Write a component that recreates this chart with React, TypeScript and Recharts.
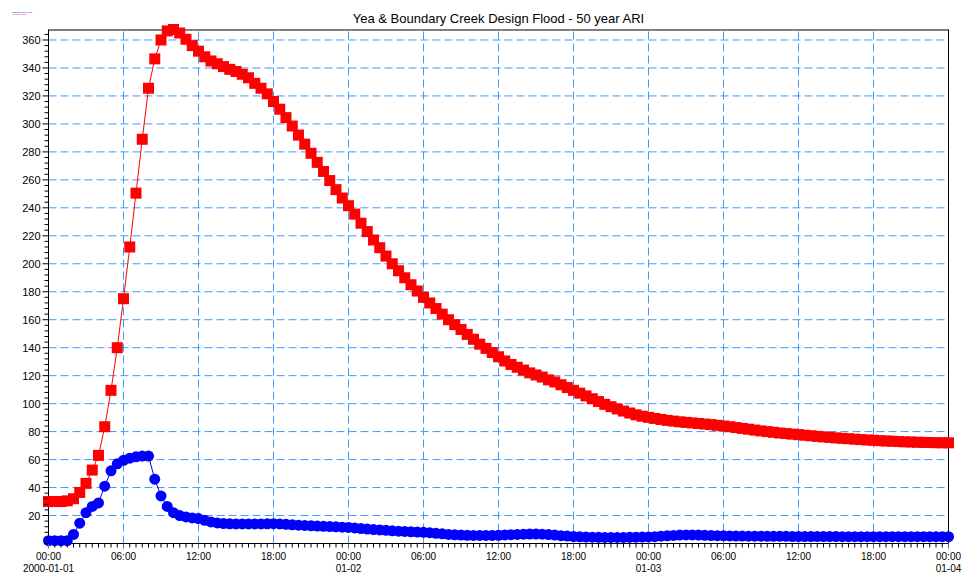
import React from "react";
import { LineChart, Line, XAxis, YAxis, ReferenceLine } from "recharts";

// half-hourly samples, 2000-01-01 00:00 to 01-04 00:00
const STEP_HOURS = 0.5;

// Yea River (red squares)
const yeaRiver = [
  30, 30, 30, 30.5, 32, 36.5, 43, 52.5, 63, 83.5, 109.5, 140,
  175, 212, 250.5, 289, 325.5, 346.5, 360, 366.5, 367.5, 365, 360.5, 356,
  352, 348, 345, 343, 341, 339, 337.5, 335.5, 333, 329, 325.5, 321.5,
  316, 310.5, 304.5, 298.5, 292, 285.5, 279, 272.5, 266, 259.5, 253, 247,
  241.5, 235.5, 229, 223, 217, 211.5, 205.5, 200, 195, 190, 185, 180.5,
  176, 172, 168, 164, 160, 156.5, 153, 149.5, 146, 142.5, 139.5, 136.5,
  133.5, 130.5, 128, 126, 124, 122, 120.5, 119, 117, 115.5, 113.5, 111.5,
  109.5, 107.5, 105.5, 103.5, 101.5, 99.5, 97.8, 96.2, 94.7, 93.3, 92, 91,
  90.2, 89.4, 88.7, 88, 87.5, 87, 86.6, 86.2, 85.8, 85.4, 85, 84.5,
  84, 83.5, 82.9, 82.3, 81.7, 81.1, 80.5, 80, 79.5, 79, 78.6, 78.2,
  77.8, 77.4, 77, 76.6, 76.2, 75.9, 75.5, 75.2, 74.9, 74.6, 74.3, 74,
  73.8, 73.5, 73.3, 73.1, 72.9, 72.7, 72.6, 72.4, 72.3, 72.2, 72.1, 72,
  72,
];

// Boundary Creek (blue circles)
const boundaryCreek = [
  2, 2, 2, 2, 6.5, 14.5, 22, 26.5, 29, 41, 52, 57,
  59.5, 61, 62, 62.5, 62.5, 46, 34, 26.5, 22, 20, 19, 18.3,
  17.8, 16.6, 15.4, 14.7, 14.3, 14.1, 14, 14, 14, 14, 14, 14.1,
  14.2, 14, 13.7, 13.4, 13.1, 12.9, 12.7, 12.5, 12.3, 12.1, 11.9, 11.7,
  11.5, 11.1, 10.7, 10.3, 10, 9.7, 9.4, 9.1, 8.8, 8.6, 8.4, 8.2,
  8, 7.7, 7.3, 6.9, 6.5, 6.2, 6, 5.9, 5.8, 5.8, 5.8, 5.8,
  5.9, 6.1, 6.3, 6.5, 6.7, 6.8, 6.8, 6.7, 6.4, 6, 5.6, 5.3,
  5, 4.8, 4.6, 4.5, 4.4, 4.3, 4.3, 4.3, 4.3, 4.4, 4.5, 4.6,
  4.7, 4.9, 5.2, 5.5, 5.8, 6, 6.1, 6.1, 6, 5.9, 5.7, 5.6,
  5.5, 5.4, 5.3, 5.3, 5.2, 5.2, 5.2, 5.1, 5.1, 5.1, 5.1, 5,
  5, 5, 5, 5, 5, 5, 5, 4.9, 4.9, 4.9, 4.9, 4.9,
  4.9, 4.9, 4.9, 4.9, 4.9, 4.9, 4.9, 4.9, 4.9, 4.9, 4.9, 4.9,
  4.9,
];

const xMajorTicks = [0, 6, 12, 18, 24, 30, 36, 42, 48, 54, 60, 66, 72];
const xTickTime = ["00:00", "06:00", "12:00", "18:00", "00:00", "06:00", "12:00", "18:00", "00:00", "06:00", "12:00", "18:00", "00:00"];
const xTickDate = ["2000-01-01", "", "", "", "01-02", "", "", "", "01-03", "", "", "", "01-04"];
const yLabels = [20, 40, 60, 80, 100, 120, 140, 160, 180, 200, 220, 240, 260, 280, 300, 320, 340, 360];
const yMax = 367.15;

const data = yeaRiver.map((v, i) => ({ hour: i * STEP_HOURS, yea: v, boundary: boundaryCreek[i] }));
const xMinorTicks = yeaRiver.map((_, i) => i * STEP_HOURS);
const yMinorTicks = Array.from({ length: 92 }, (_, i) => i * 4);

const FONT = "'Liberation Sans', Arial, sans-serif";
const GRID = "#3d9bff";

function XTick(props: any) {
  const { x, y, payload } = props;
  const idx = xMajorTicks.indexOf(payload.value);
  if (idx < 0) return <line x1={x} x2={x} y1={y} y2={y + 4} stroke="#000" />;
  return (
    <g>
      <line x1={x} x2={x} y1={y} y2={y + 5} stroke="#666" />
      <text x={x} y={y + 16} textAnchor="middle" fontSize={10} fontFamily={FONT} fill="#000">
        {xTickTime[idx]}
      </text>
      {xTickDate[idx] ? (
        <text x={x} y={y + 28} textAnchor="middle" fontSize={10} fontFamily={FONT} fill="#000">
          {xTickDate[idx]}
        </text>
      ) : null}
    </g>
  );
}

function YTick(props: any) {
  const { x, y, payload } = props;
  const major = yLabels.includes(payload.value);
  return (
    <g>
      <line x1={x - (major ? 6 : 4)} x2={x} y1={y} y2={y} stroke="#000" />
      {major ? (
        <text x={x - 8} y={y + 4} textAnchor="end" fontSize={11} fontFamily={FONT} fill="#000">
          {payload.value}
        </text>
      ) : null}
    </g>
  );
}

const squareDot = (p: any) => (
  <rect key={`sq-${p.index}`} x={p.cx - 5.5} y={p.cy - 5.5} width={11} height={11} fill="#ff0000" />
);
const circleDot = (p: any) => <circle key={`ci-${p.index}`} cx={p.cx} cy={p.cy} r={5.5} fill="#0000ff" />;

export default function App() {
  return (
    <div style={{ position: "absolute", left: 0, top: 0, width: 973, height: 574, background: "#fff" }}>
      <LineChart width={973} height={574} data={data} margin={{ top: 29.5, right: 24.5, bottom: 0, left: 0.5 }}>
        <XAxis
          dataKey="hour"
          type="number"
          domain={[0, 72]}
          ticks={xMinorTicks}
          interval={0}
          height={30.5}
          tickSize={0}
          tickMargin={0}
          tickLine={false}
          axisLine={{ stroke: "#000" }}
          tick={<XTick />}
        />
        <YAxis
          type="number"
          domain={[0, yMax]}
          ticks={yMinorTicks}
          interval={0}
          width={48}
          tickSize={0}
          tickMargin={0}
          tickLine={false}
          axisLine={{ stroke: "#000" }}
          tick={<YTick />}
        />
        {yLabels.map((v) => (
          <ReferenceLine key={`h${v}`} y={v} stroke={GRID} strokeDasharray="8 4" />
        ))}
        {xMajorTicks.slice(1, -1).map((v) => (
          <ReferenceLine key={`v${v}`} x={v} stroke={GRID} strokeDasharray="8 4" />
        ))}
        <ReferenceLine y={yMax} stroke="#000" />
        <ReferenceLine x={72} stroke="#000" />
        <Line type="linear" dataKey="boundary" stroke="#0000ff" strokeWidth={1} dot={circleDot} activeDot={false} isAnimationActive={false} />
        <Line type="linear" dataKey="yea" stroke="#ff0000" strokeWidth={1} dot={squareDot} activeDot={false} isAnimationActive={false} />
      </LineChart>
      <svg width={973} height={574} style={{ position: "absolute", left: 0, top: 0, pointerEvents: "none" }}>
        <text x={498.5} y={23} textAnchor="middle" fontSize={13} fontFamily={FONT} fill="#000">
          Yea &amp; Boundary Creek Design Flood - 50 year ARI
        </text>
        <text x={12} y={13.2} fontSize={2} fontFamily={FONT} fill="#0000ff">Boundary Creek Flood</text>
        <text x={12} y={15.2} fontSize={2} fontFamily={FONT} fill="#ff0000">Yea River Flood</text>
      </svg>
    </div>
  );
}
